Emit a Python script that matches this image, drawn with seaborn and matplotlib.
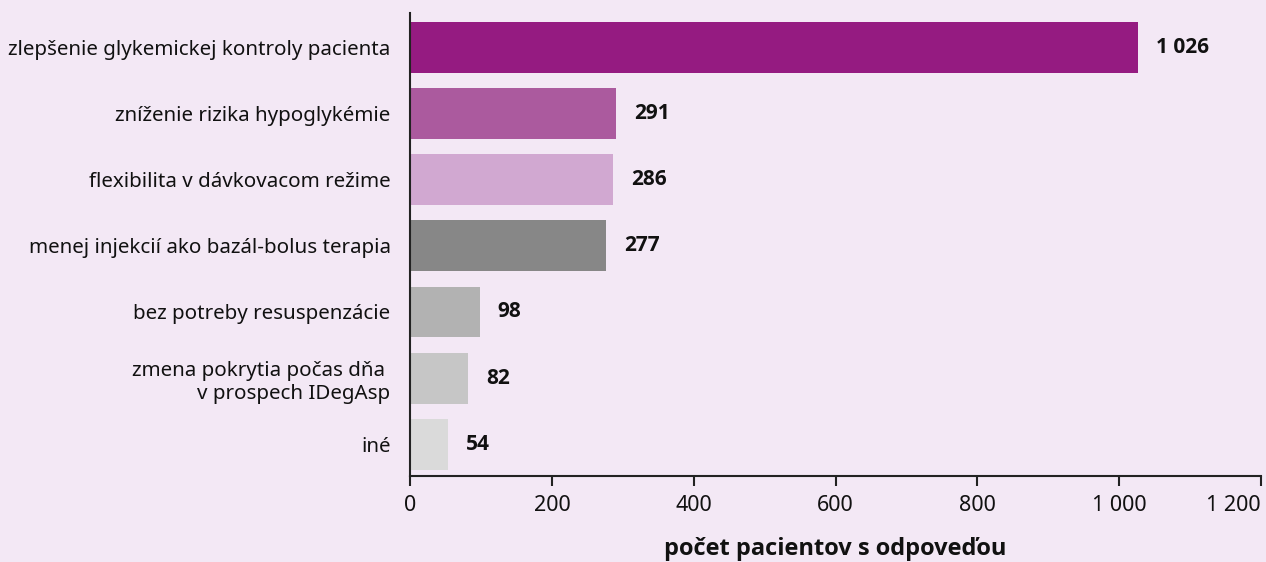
import matplotlib
matplotlib.use("Agg")
import matplotlib.pyplot as plt
import seaborn as sns
import pandas as pd

# Reasons reported by patients and number of responses
categories = [
    "zlepšenie glykemickej kontroly pacienta",
    "zníženie rizika hypoglykémie",
    "flexibilita v dávkovacom režime",
    "menej injekcií ako bazál-bolus terapia",
    "bez potreby resuspenzácie",
    "zmena pokrytia počas dňa \nv prospech IDegAsp",
    "iné",
]
counts = [1026, 291, 286, 277, 98, 82, 54]
bar_colors = ["#951B81", "#AB5A9E", "#D1A8D1", "#878787", "#B2B2B2", "#C6C6C6", "#DADADA"]
x_ticks = [0, 200, 400, 600, 800, 1000, 1200]
x_tick_labels = ["0", "200", "400", "600", "800", "1 000", "1 200"]
x_title = "počet pacientov s odpoveďou"

bg = "#F3E8F5"
sns.set_theme(style="white")
plt.rcParams["font.family"] = ["Noto Sans", "DejaVu Sans"]
bold_family = ["Open Sans", "DejaVu Sans"]

df = pd.DataFrame({"dovod": categories, "pocet": counts})

fig = plt.figure(figsize=(12.66, 5.62), dpi=100, facecolor=bg)
ax = fig.add_axes([0.3239, 0.1530, 0.6722, 0.8239])
ax.set_facecolor(bg)

sns.barplot(data=df, y="dovod", x="pocet", hue="dovod", palette=bar_colors,
            legend=False, width=0.77, saturation=1, linewidth=0, ax=ax, orient="h")

for i, v in enumerate(counts):
    label = f"{v:,}".replace(",", " ")
    ax.annotate(label, xy=(v, i), xytext=(13, 0), textcoords="offset points",
                ha="left", va="center", fontsize=15, fontweight="bold",
                family=bold_family, color="#111111")

ax.set_xlim(0, 1200)
ax.set_ylim(6.48, -0.52)
ax.set_xticks(x_ticks)
ax.set_xticklabels(x_tick_labels)
ax.set_ylabel("")
ax.set_xlabel(x_title, fontsize=17, fontweight="bold", family=bold_family,
              color="#111111", labelpad=15)

for side in ["top", "right"]:
    ax.spines[side].set_visible(False)
for side in ["left", "bottom"]:
    ax.spines[side].set_color("#222222")
    ax.spines[side].set_linewidth(1.5)

ax.tick_params(axis="x", which="both", bottom=True, length=7, width=1.5, color="#222222",
               labelsize=15.5, labelcolor="#111111", pad=7)
ax.tick_params(axis="y", which="both", left=False, length=0, labelsize=14.8,
               labelcolor="#111111", pad=14)
for t in ax.get_yticklabels():
    t.set_multialignment("right")
# keep the last tick label inside the figure
ax.get_xticklabels()[-1].set_horizontalalignment("right")

fig.savefig("out.png", dpi=100, facecolor=bg)
